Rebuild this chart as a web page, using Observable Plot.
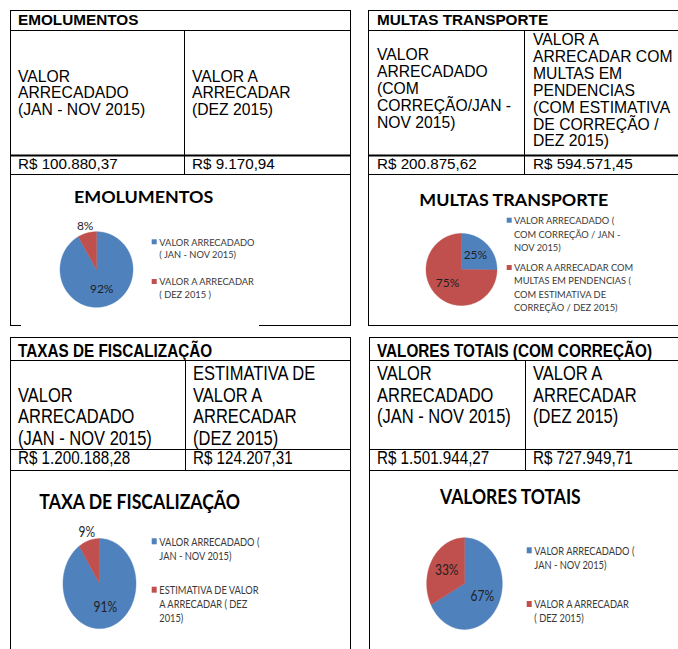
<!DOCTYPE html>
<html><head><meta charset="utf-8">
<script src="https://cdn.jsdelivr.net/npm/d3@7"></script>
<script src="https://cdn.jsdelivr.net/npm/@observablehq/plot@0.6"></script>
<style>
html,body{margin:0;padding:0;background:#fff;}
#page{position:relative;width:678px;height:649px;overflow:hidden;background:#fff;}
#page svg.overlay{position:absolute;left:0;top:0;}
.pie{position:absolute;transform-origin:0 0;}
.pie svg{overflow:visible;}
</style></head><body><div id="page"></div>
<script>
// ---------------- DATA ----------------
const panelTitles = ["EMOLUMENTOS", "MULTAS TRANSPORTE", "TAXAS DE FISCALIZAÇÃO", "VALORES TOTAIS (COM CORREÇÃO)"];
const headerArrecadado = [
  ["VALOR", "ARRECADADO", "(JAN - NOV 2015)"],
  ["VALOR", "ARRECADADO", "(COM", "CORREÇÃO/JAN  -", "NOV 2015)"],
  ["VALOR", "ARRECADADO", "(JAN - NOV 2015)"],
  ["VALOR", "ARRECADADO", "(JAN - NOV 2015)"]
];
const headerArrecadar = [
  ["VALOR A", "ARRECADAR", "(DEZ 2015)"],
  ["VALOR A", "ARRECADAR COM", "MULTAS EM", "PENDENCIAS", "(COM ESTIMATIVA", "DE CORREÇÃO /", "DEZ 2015)"],
  ["ESTIMATIVA DE", "VALOR A", "ARRECADAR", "(DEZ 2015)"],
  ["VALOR A", "ARRECADAR", "(DEZ 2015)"]
];
const arrecadado = [100880.37, 200875.62, 1200188.28, 1501944.27];
const aArrecadar = [9170.94, 594571.45, 124207.31, 727949.71];
const pieTitles = ["EMOLUMENTOS", "MULTAS TRANSPORTE", "TAXA DE FISCALIZAÇÃO", "VALORES TOTAIS"];
const legendArrecadado = [
  ["VALOR ARRECADADO", "( JAN - NOV 2015)"],
  ["VALOR ARRECADADO (", "COM CORREÇÃO / JAN -", "NOV 2015)"],
  ["VALOR ARRECADADO (", "JAN - NOV 2015)"],
  ["VALOR ARRECADADO (", "JAN - NOV 2015)"]
];
const legendArrecadar = [
  ["VALOR A ARRECADAR", "( DEZ 2015 )"],
  ["VALOR A ARRECADAR COM", "MULTAS EM PENDENCIAS (", "COM ESTIMATIVA DE", "CORREÇÃO / DEZ 2015)"],
  ["ESTIMATIVA DE VALOR", "A ARRECADAR ( DEZ", "2015)"],
  ["VALOR A ARRECADAR", "( DEZ 2015)"]
];
const sliceColors = ["#4F81BD", "#C0504D"];

// ---------------- LAYOUT (styles / positions) ----------------
const L = [
  {x0:10.5, x1:350.5, y0:10.5, yT:30.5, yH:155.5, hw:2, yV:174.5, y1:325.5, xd:184.5, gap:[21,259],
   sy:1, titleBase:25, tx1:18, tx2:192, hFont:15.7, hStep:16.5, h1:81.7, h2:81.7, vBase:169.3,
   pie:{cx:95.8, cy:268.8, rx:36.5, ry:37.8},
   pt:{x0:74, x1:213.3, base:202.7, size:17.8},
   lg:{sw:151.7, tx:159.3, sq:[239.3,279], base:[245.5,285], step:12.8, size:9.3}},
  {x0:368.5, x1:720, y0:10.5, yT:30.5, yH:155.5, hw:2, yV:174.5, y1:325.5, xd:524.5, gap:null,
   sy:1, titleBase:25, tx1:377, tx2:533, hFont:15.7, hStep:16.9, h1:60, h2:45, vBase:169.3, split:511,
   pie:{cx:461, cy:269, rx:35.5, ry:36},
   pt:{x0:419.3, x1:608.3, base:206, size:17.8},
   lg:{sw:506.7, tx:514, sq:[217.7,265], base:[224,270.7], step:13.5, size:9.3}},
  {x0:10.5, x1:350.5, y0:337.5, yT:360.5, yH:449.5, hw:1.2, yV:470.5, y1:null, xd:185.5, gap:null,
   sy:1.2, titleBase:356.7, tx1:18, tx2:193, hFont:16.5, hStep:21.7, h1:401.7, h2:380, vBase:464,
   pie:{cx:98.5, cy:583, rx:36.5, ry:45},
   pt:{x0:39.3, x1:240, base:509.3, size:17.8},
   lg:{sw:151.7, tx:159.3, sq:[538.3,586.7], base:[546,594], step:14.2, size:9.3}},
  {x0:369.5, x1:720, y0:337.5, yT:360.5, yH:449.5, hw:1.2, yV:470.5, y1:null, xd:525.5, gap:null,
   sy:1.2, titleBase:356.7, tx1:377, tx2:533, hFont:16.5, hStep:21.7, h1:380, h2:380, vBase:464,
   pie:{cx:463.8, cy:582.5, rx:37.8, ry:45.8},
   pt:{x0:440, x1:580.7, base:504, size:17.8},
   lg:{sw:526.7, tx:534.3, sq:[547.3,601], base:[555,608.3], step:14, size:9.3}}
];

const fmt = d3.formatLocale({decimal: ",", thousands: ".", grouping: [3], currency: ["R$ ", ""]}).format("$,.2f");
const TABLE_FONT = "'Liberation Sans', Arial, sans-serif";
const CHART_FONT = "Lato, 'Open Sans', sans-serif";

const page = document.getElementById("page");
const svg = d3.create("svg").attr("class", "overlay").attr("width", 678).attr("height", 649);

function line(x1, y1, x2, y2, w = 1) {
  svg.append("line").attr("x1", x1).attr("y1", y1).attr("x2", x2).attr("y2", y2)
    .attr("stroke", "#000").attr("stroke-width", w);
}
function text(x, y, s, {size = 15, weight = "normal", family = TABLE_FONT, fill = "#000", sy = 1, anchor = "start", length = null} = {}) {
  const t = svg.append("text").attr("transform", `translate(${x},${y}) scale(1,${sy})`)
    .attr("font-family", family).attr("font-size", size).attr("font-weight", weight)
    .attr("fill", fill).attr("text-anchor", anchor).attr("xml:space", "preserve").text(s);
  if (length) t.attr("textLength", length).attr("lengthAdjust", "spacingAndGlyphs");
  return t;
}

function pieFigure(values, rx, ry) {
  const total = d3.sum(values);
  let acc = 0;
  const slices = values.map((v, i) => {
    const a0 = acc / total * 2 * Math.PI; acc += v;
    const a1 = acc / total * 2 * Math.PI;
    const n = Math.max(2, Math.ceil((a1 - a0) / (Math.PI / 120)));
    const pts = [{x: 0, y: 0}];
    for (let k = 0; k <= n; k++) { const a = a0 + (a1 - a0) * k / n; pts.push({x: Math.sin(a), y: Math.cos(a)}); }
    pts.push({x: 0, y: 0});
    const share = v / total, mid = (a0 + a1) / 2, r = share < 0.12 ? 1.2 : 0.55;
    return {pts, color: sliceColors[i], label: Math.round(share * 100) + "%", lx: r * Math.sin(mid), ly: r * Math.cos(mid)};
  });
  const W = 130, H = 130;
  return Plot.plot({
    width: W, height: H, margin: 0,
    x: {domain: [-1, 1], range: [W / 2 - rx, W / 2 + rx], axis: null},
    y: {domain: [-1, 1], range: [H / 2 + ry, H / 2 - ry], axis: null},
    style: {background: "transparent", overflow: "visible"},
    marks: [
      ...slices.map(s => Plot.line(s.pts, {x: "x", y: "y", fill: s.color, stroke: s.color, strokeWidth: 0.4})),
      Plot.text(slices, {x: "lx", y: "ly", text: "label", fontSize: 12, fill: "#1f1f1f", fontFamily: CHART_FONT})
    ]
  });
}

L.forEach((c, i) => {
  const bottom = c.y1 ?? 660;
  // borders
  line(c.x0, c.y0 - 0.5, c.x0, bottom + 0.5);
  line(c.x1, c.y0 - 0.5, c.x1, bottom + 0.5);
  line(c.x0 - 0.5, c.y0, c.x1 + 0.5, c.y0);
  line(c.x0, c.yT, c.x1, c.yT);
  line(c.x0, c.yH, c.x1, c.yH, c.hw);
  line(c.x0, c.yV, c.x1, c.yV);
  line(c.xd, c.yT, c.xd, c.yV);
  if (c.y1 != null) {
    if (c.gap) { line(c.x0 - 0.5, c.y1, c.gap[0], c.y1); line(c.gap[1], c.y1, c.x1 + 0.5, c.y1); }
    else line(c.x0 - 0.5, c.y1, c.x1 + 0.5, c.y1);
  }
  // table texts
  text(c.tx1, c.titleBase, panelTitles[i], {size: 15.3, weight: "bold", sy: c.sy === 1 ? 1 : 1.15});
  headerArrecadado[i].forEach((s, k) => {
    const y = c.h1 + k * c.hStep;
    if (s.includes("  ") && c.split) {
      const [a, b] = s.split(/\s{2,}/);
      text(c.tx1, y, a, {size: c.hFont, sy: c.sy});
      text(c.split, y, b, {size: c.hFont, sy: c.sy, anchor: "end"});
    } else text(c.tx1, y, s, {size: c.hFont, sy: c.sy});
  });
  headerArrecadar[i].forEach((s, k) => text(c.tx2, c.h2 + k * c.hStep, s, {size: c.hFont, sy: c.sy}));
  text(c.tx1, c.vBase, fmt(arrecadado[i]), {size: 15.2, sy: c.sy});
  text(c.tx2, c.vBase, fmt(aArrecadar[i]), {size: 15.2, sy: c.sy});
  // pie title
  text(c.pt.x0, c.pt.base, pieTitles[i], {size: c.pt.size, weight: "bold", family: CHART_FONT, sy: c.sy, length: c.pt.x1 - c.pt.x0});
  // legend
  [legendArrecadado[i], legendArrecadar[i]].forEach((lines, j) => {
    svg.append("rect").attr("x", c.lg.sw).attr("y", c.lg.sq[j]).attr("width", 5).attr("height", 5 * c.sy).attr("fill", sliceColors[j]);
    lines.forEach((s, k) => text(c.lg.tx, c.lg.base[j] + k * c.lg.step, s, {size: c.lg.size, family: CHART_FONT, fill: "#3a3a3a", sy: c.sy}));
  });
  // pie (Observable Plot)
  const fig = pieFigure([arrecadado[i], aArrecadar[i]], c.pie.rx, c.pie.ry / c.sy);
  const div = document.createElement("div");
  div.className = "pie";
  div.style.left = (c.pie.cx - 65) + "px";
  div.style.top = (c.pie.cy - 65 * c.sy) + "px";
  div.style.transform = `scaleY(${c.sy})`;
  div.appendChild(fig);
  page.appendChild(div);
});
page.appendChild(svg.node());
</script></body></html>
